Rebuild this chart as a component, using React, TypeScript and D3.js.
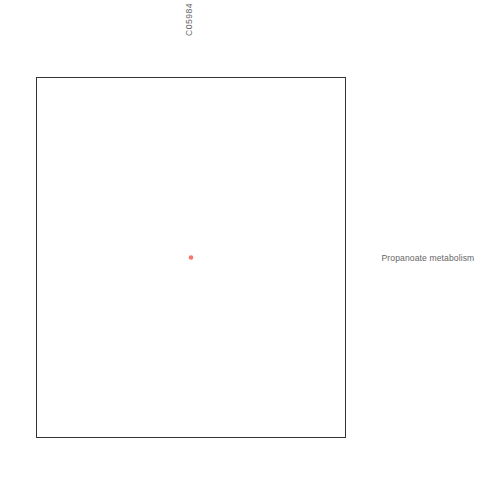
import React from 'react';
import * as d3 from 'd3';

const compounds = ['C05984'];
const pathways = ['Propanoate metabolism'];
const points = [{ compound: 'C05984', pathway: 'Propanoate metabolism' }];

const width = 480;
const height = 480;
const margin = { top: 77.5, right: 134.5, bottom: 42.5, left: 36.5 };

const App = () => {
  const innerW = width - margin.left - margin.right;
  const innerH = height - margin.top - margin.bottom;

  const x = d3.scalePoint().domain(compounds).range([0, innerW]).padding(0.5);
  const y = d3.scalePoint().domain(pathways).range([0, innerH]).padding(0.5);

  const font = { fontFamily: 'Liberation Sans, Arial, sans-serif', fontSize: 8.6, fill: '#666' };

  return (
    <svg width={width} height={height} style={{ position: 'absolute', left: 0, top: 0 }}>
      <rect width={width} height={height} fill="#fff" />
      <g transform={`translate(${margin.left},${margin.top})`}>
        <rect x={0} y={0} width={innerW} height={innerH} fill="none" stroke="#333" strokeWidth={1} />
        {points.map((d, i) => (
          <circle key={i} cx={x(d.compound)} cy={y(d.pathway)} r={2.3} fill="#F8766D" />
        ))}
        {compounds.map(c => (
          <text key={c} {...font} textAnchor="start" letterSpacing={0.5}
            transform={`translate(${(x(c) ?? 0) + 0.5},${-41.5}) rotate(-90)`}>{c}</text>
        ))}
        {pathways.map(p => (
          <text key={p} {...font} letterSpacing={0.1} x={innerW + 36} y={(y(p) ?? 0) + 3}>{p}</text>
        ))}
      </g>
    </svg>
  );
};

export default App;
